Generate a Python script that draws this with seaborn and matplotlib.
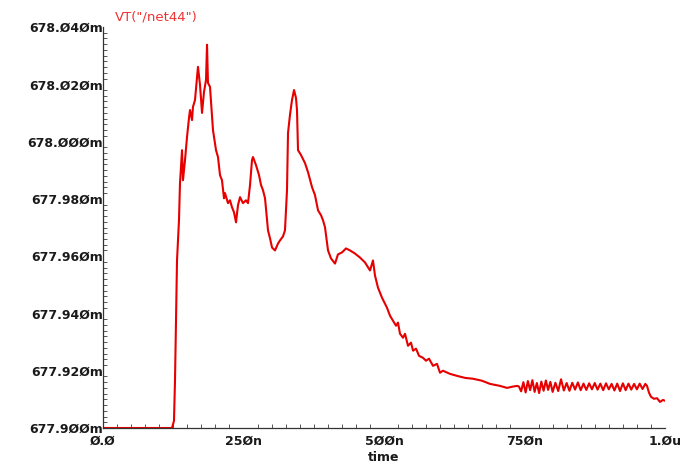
import numpy as np
import pandas as pd
import matplotlib
matplotlib.use("Agg")
import matplotlib.pyplot as plt
from matplotlib.ticker import MultipleLocator, FuncFormatter
import seaborn as sns

# Transient waveform of net44 (time in ns, voltage in mV)
time_ns = [
    0.0, 122.8, 126.3, 128.1, 129.9, 131.7, 135.2, 137.0, 140.6, 142.3,
    145.9, 149.5, 153.0, 154.8, 158.4, 160.1, 163.7, 167.3, 169.0, 172.6,
    176.2, 179.7, 183.3, 185.1, 186.8, 190.4, 195.7, 201.1, 204.6, 208.2,
    211.7, 215.3, 217.1, 222.4, 226.0, 229.5, 233.1, 236.7, 240.2, 243.8,
    249.1, 254.4, 258.0, 261.6, 265.1, 266.9, 272.2, 277.6, 281.2, 284.7,
    288.3, 293.6, 297.2, 300.8, 306.1, 311.4, 315.0, 320.3, 323.8, 327.4,
    329.2, 332.7, 336.3, 339.9, 343.4, 345.2, 347.0, 352.3, 359.4, 364.8,
    371.9, 377.2, 382.6, 387.9, 391.5, 395.0, 400.4, 405.7, 412.8, 418.1,
    425.3, 432.4, 439.5, 448.4, 457.3, 466.2, 475.1, 480.4, 484.0, 489.3,
    496.4, 505.3, 510.7, 516.0, 521.4, 524.9, 528.5, 533.8, 537.4, 542.7,
    548.0, 551.7, 557.0, 562.3, 569.4, 574.7, 580.1, 587.2, 594.3, 599.6,
    605.0, 617.4, 629.9, 644.1, 658.4, 674.4, 688.6, 706.4, 718.9, 727.8,
    736.7,
    740, 744, 748, 752, 756, 760, 764, 768, 772, 776,
    780, 784, 788, 792, 796, 800, 805, 810, 815, 820,
    825, 830, 835, 840, 845, 850, 855, 860, 865, 870,
    875, 880, 885, 890, 895, 900, 905, 910, 915, 920,
    925, 930, 935, 940, 945, 950, 955, 960, 965, 968.0,
    971.6, 975.1, 980.4, 985.8, 991.1, 996.4, 1000.0,
]

vt_mv = [
    677.9000, 677.9000, 677.9025, 677.9165, 677.9375, 677.9585, 677.9725, 677.9855, 677.9970, 677.9865,
    677.9935, 678.0016, 678.0082, 678.0110, 678.0075, 678.0121, 678.0145, 678.0226, 678.0261, 678.0198,
    678.0100, 678.0173, 678.0215, 678.0338, 678.0205, 678.0191, 678.0040, 677.9970, 677.9946, 677.9883,
    677.9865, 677.9802, 677.9820, 677.9785, 677.9795, 677.9771, 677.9753, 677.9718, 677.9778, 677.9806,
    677.9785, 677.9795, 677.9785, 677.9848, 677.9935, 677.9946, 677.9918, 677.9883, 677.9848, 677.9830,
    677.9802, 677.9690, 677.9662, 677.9630, 677.9620, 677.9644, 677.9655, 677.9669, 677.9690, 677.9830,
    678.0030, 678.0093, 678.0145, 678.0180, 678.0152, 678.0110, 677.9970, 677.9953, 677.9925, 677.9893,
    677.9841, 677.9813, 677.9760, 677.9743, 677.9725, 677.9701, 677.9620, 677.9592, 677.9574, 677.9606,
    677.9613, 677.9627, 677.9620, 677.9609, 677.9595, 677.9578, 677.9550, 677.9585, 677.9532, 677.9490,
    677.9455, 677.9420, 677.9392, 677.9375, 677.9357, 677.9368, 677.9329, 677.9315, 677.9329, 677.9287,
    677.9298, 677.9270, 677.9277, 677.9252, 677.9245, 677.9235, 677.9242, 677.9217, 677.9224, 677.9193,
    677.9200, 677.9189, 677.9182, 677.9175, 677.9172, 677.9165, 677.9154, 677.9147, 677.9140, 677.9144,
    677.9147,
    677.9145, 677.9128, 677.9160, 677.9124, 677.9164, 677.9132, 677.9167, 677.9126, 677.9157, 677.9122,
    677.9162, 677.9130, 677.9166, 677.9133, 677.9161, 677.9126, 677.9158, 677.9129, 677.9170, 677.9131,
    677.9157, 677.9130, 677.9158, 677.9134, 677.9159, 677.9132, 677.9155, 677.9133, 677.9156, 677.9135,
    677.9157, 677.9134, 677.9155, 677.9132, 677.9156, 677.9135, 677.9154, 677.9131, 677.9155, 677.9129,
    677.9156, 677.9132, 677.9155, 677.9134, 677.9154, 677.9135, 677.9155, 677.9136, 677.9154, 677.9147,
    677.9123, 677.9109, 677.9102, 677.9104, 677.9091, 677.9098, 677.9095,
]

x_ticks = [0, 250, 500, 750, 1000]
x_tick_labels = ["Ø.Ø", "25Øn", "5ØØn", "75Øn", "1.Øu"]
y_ticks = [677.900, 677.920, 677.940, 677.960, 677.980, 678.000, 678.020, 678.040]
trace_name = 'VT("/net44")'

df = pd.DataFrame({"time": time_ns, "vt": vt_mv})

sns.set_style("white")
plt.rcParams["font.family"] = ["DejaVu Sans"]

fig = plt.figure(figsize=(6.92, 4.66), dpi=100)
ax = fig.add_axes([103 / 692, 1 - 428 / 466, (665 - 103) / 692, (428 - 27) / 466])

sns.lineplot(data=df, x="time", y="vt", ax=ax, color="#e60000",
             linewidth=1.5, estimator=None, sort=False)

ax.set_xlim(0, 1000)
ax.set_ylim(677.900, 678.040)

ax.set_xticks(x_ticks)
ax.set_xticklabels(x_tick_labels)
ax.set_yticks(y_ticks)
ax.yaxis.set_major_formatter(
    FuncFormatter(lambda v, _: f"{v:.3f}m".replace("0", "Ø")))
ax.xaxis.set_minor_locator(MultipleLocator(25))
ax.yaxis.set_minor_locator(MultipleLocator(0.002))

for side in ("top", "right"):
    ax.spines[side].set_visible(False)
for side in ("left", "bottom"):
    ax.spines[side].set_color("#333333")
    ax.spines[side].set_linewidth(0.9)

ax.tick_params(which="major", direction="in", length=5, width=0.8,
               color="#333333", labelsize=9, labelcolor="#1a1a1a")
ax.tick_params(which="minor", direction="in", length=3, width=0.7,
               color="#555555")
ax.tick_params(axis="y", which="major", pad=0)
ax.tick_params(axis="x", which="major", pad=5)
ax.tick_params(which="minor", left=True, bottom=True)
for lbl in ax.get_xticklabels() + ax.get_yticklabels():
    lbl.set_fontweight("bold")

ax.set_xlabel("time", fontsize=9, color="#1a1a1a", labelpad=2,
              fontweight="bold")
ax.set_ylabel("")

fig.text(115 / 692, 1 - 17 / 466, trace_name, color="#ee3333",
         fontsize=9.5, va="center", ha="left")

fig.savefig("out.png", dpi=100, facecolor="white")
